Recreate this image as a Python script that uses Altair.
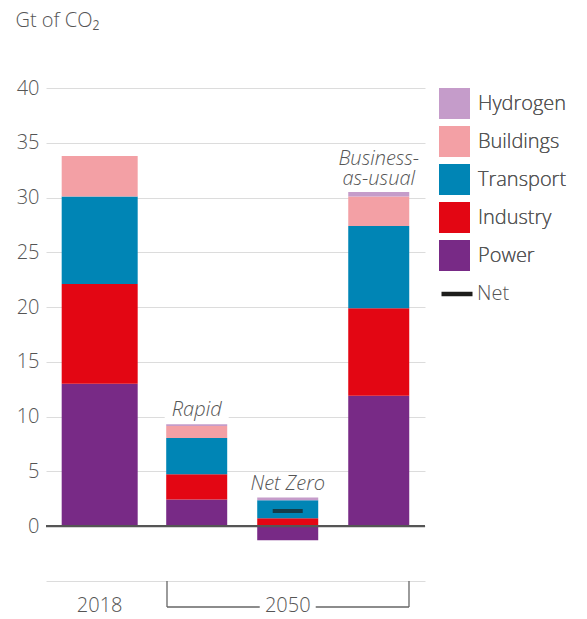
import altair as alt
import pandas as pd

# ---- data ----
scenarios = ["2018", "Rapid", "Net Zero", "Business-as-usual"]
sectors_bottom_up = ["Power", "Industry", "Transport", "Buildings", "Hydrogen"]
power = [13.0, 2.45, -1.28, 11.9]
industry = [9.1, 2.3, 0.73, 8.0]
transport = [8.0, 3.3, 1.64, 7.5]
buildings = [3.7, 1.1, 0.0, 2.7]
hydrogen = [0.0, 0.16, 0.25, 0.4]

net_scenarios = ["Net Zero"]
net_values = [1.4]

annotation_scenarios = ["Rapid", "Net Zero", "Business-as-usual"]
annotation_text = ["Rapid", "Net Zero", "Business-\nas-usual"]

year_scenarios = ["2018", "Net Zero"]
year_text = ["2018", "2050"]

legend_order = ["Hydrogen", "Buildings", "Transport", "Industry", "Power"]
legend_colors = ["#c59cca", "#f3a0a5", "#0085b5", "#e30613", "#782a86"]
y_ticks = [-5, 0, 5, 10, 15, 20, 25, 30, 35, 40]

FONT = "Open Sans"
TEXT = "#555555"
FS = 20
LH = 20

# ---- tables ----
series = dict(zip(sectors_bottom_up, [power, industry, transport, buildings, hydrogen]))
rows = []
for rank, sector in enumerate(sectors_bottom_up):
    for sc, v in zip(scenarios, series[sector]):
        if v != 0:
            rows.append({"scenario": sc, "sector": sector, "value": v, "rank": rank})
df = pd.DataFrame(rows)

tops = {sc: sum(max(series[s][i], 0) for s in sectors_bottom_up) for i, sc in enumerate(scenarios)}
ann_df = pd.DataFrame({"scenario": annotation_scenarios, "label": annotation_text,
                       "top": [tops[s] for s in annotation_scenarios]})
net_df = pd.DataFrame({"scenario": net_scenarios, "value": net_values, "label": ["Net"] * len(net_values)})
year_df = pd.DataFrame({"scenario": year_scenarios, "label": year_text})

x_scale = alt.Scale(domain=scenarios, paddingInner=0, paddingOuter=0.082, align=0.95)
y_scale = alt.Scale(domain=[-5, 40], nice=False)
is_2018 = "datum.scenario == '2018'"
not_2018 = "datum.scenario != '2018'"
multi = "indexof(datum.label, '\\n') >= 0"
single = "indexof(datum.label, '\\n') < 0"

bar_enc = dict(
    x=alt.X("scenario:N", scale=x_scale, axis=None),
    y=alt.Y("value:Q", stack="zero", scale=y_scale,
            axis=alt.Axis(values=y_ticks, grid=True, gridColor="#dcdcdc", gridWidth=1,
                          domain=False, ticks=False, labelPadding=7,
                          labelExpr="datum.value < 0 ? '' : datum.label",
                          labelFontSize=FS, labelColor=TEXT, labelFont=FONT, labelFontWeight=300,
                          title="Gt of CO₂", titleAngle=0, titleAlign="left",
                          titleBaseline="alphabetic", titleX=-31, titleY=-62,
                          titleFontSize=20, titleFont=FONT, titleFontWeight=300,
                          titleColor=TEXT)),
    color=alt.Color("sector:N", scale=alt.Scale(domain=legend_order, range=legend_colors),
                    legend=alt.Legend(title=None, orient="none", legendX=393, legendY=0,
                                      symbolType="square", symbolSize=961, symbolStrokeWidth=0,
                                      symbolOpacity=1, labelFontSize=FS, labelColor=TEXT,
                                      labelFont=FONT, labelFontWeight=300, labelOffset=8,
                                      rowPadding=7, padding=0)),
    order=alt.Order("rank:Q"),
)

bars_2050 = alt.Chart(df).transform_filter(not_2018).mark_bar(size=61).encode(**bar_enc)
bars_2018 = alt.Chart(df).transform_filter(is_2018).mark_bar(size=76, xOffset=-6).encode(**bar_enc)

zero = alt.Chart(pd.DataFrame({"y": [0]})).mark_rule(color="#555555", strokeWidth=2.2).encode(
    y=alt.Y("y:Q", scale=y_scale))

net = alt.Chart(net_df).mark_tick(orient="horizontal", size=30, thickness=4, color="#1d1d1b",
                                  strokeWidth=0).encode(
    x=alt.X("scenario:N", scale=x_scale, axis=None),
    y=alt.Y("value:Q", scale=y_scale),
    stroke=alt.Stroke("label:N", scale=alt.Scale(domain=["Net"], range=["#1d1d1b"]),
                      legend=alt.Legend(title=None, orient="none", legendX=393, legendY=188,
                                        symbolType="stroke", symbolSize=961,
                                        symbolStrokeWidth=4.5, symbolOpacity=1,
                                        labelFontSize=FS, labelColor=TEXT, labelFont=FONT,
                                        labelFontWeight=300, labelOffset=2, padding=0)),
)

ann_base = alt.Chart(ann_df).encode(
    x=alt.X("scenario:N", scale=x_scale, axis=None),
    y=alt.Y("top:Q", scale=y_scale),
)
# white band behind the last line of each annotation (breaks the grid line)
ann_gap = ann_base.mark_tick(orient="horizontal", size=64, thickness=16, color="white",
                             yOffset=-12, opacity=1)
txt = dict(font=FONT, fontSize=FS, fontStyle="italic", fontWeight=300,
           baseline="bottom", lineBreak="\n", lineHeight=LH, color=TEXT)
ann_1 = ann_base.transform_filter(single).mark_text(dy=-4, **txt).encode(text="label:N")
ann_2 = ann_base.transform_filter(multi).mark_text(dy=-4 - 19, **txt).encode(text="label:N")

bracket_h = alt.Chart(pd.DataFrame({"k": [0]})).mark_rule(color="#666666", strokeWidth=1.3).encode(
    x=alt.value(121), x2=alt.value(363), y=alt.value(519))
bracket_l = alt.Chart(pd.DataFrame({"k": [0]})).mark_rule(color="#666666", strokeWidth=1.3).encode(
    x=alt.value(121), y=alt.value(493), y2=alt.value(519))
bracket_r = alt.Chart(pd.DataFrame({"k": [0]})).mark_rule(color="#666666", strokeWidth=1.3).encode(
    x=alt.value(363), y=alt.value(493), y2=alt.value(519))

year_base = alt.Chart(year_df).encode(
    x=alt.X("scenario:N", scale=x_scale, axis=None),
    y=alt.value(524),
)
year_gap = year_base.transform_filter(not_2018).mark_tick(
    orient="horizontal", size=56, thickness=6, color="white", yOffset=-5, opacity=1)
year_2050 = year_base.transform_filter(not_2018).mark_text(
    font=FONT, fontSize=FS, fontWeight=300, baseline="alphabetic", color=TEXT).encode(text="label:N")
year_2018 = year_base.transform_filter(is_2018).mark_text(
    font=FONT, fontSize=FS, fontWeight=300, baseline="alphabetic", color=TEXT, dx=-6).encode(text="label:N")

chart = alt.layer(
    ann_gap, bars_2018, bars_2050, zero, net, ann_1, ann_2,
    bracket_h, bracket_l, bracket_r, year_gap, year_2050, year_2018
).resolve_legend(color="independent", stroke="independent").properties(
    width=379, height=493, padding={"left": 7, "top": 2, "right": 5, "bottom": 5}
).configure_view(strokeWidth=0)

chart.save("out.html", embed_options={"renderer": "svg", "actions": False})
